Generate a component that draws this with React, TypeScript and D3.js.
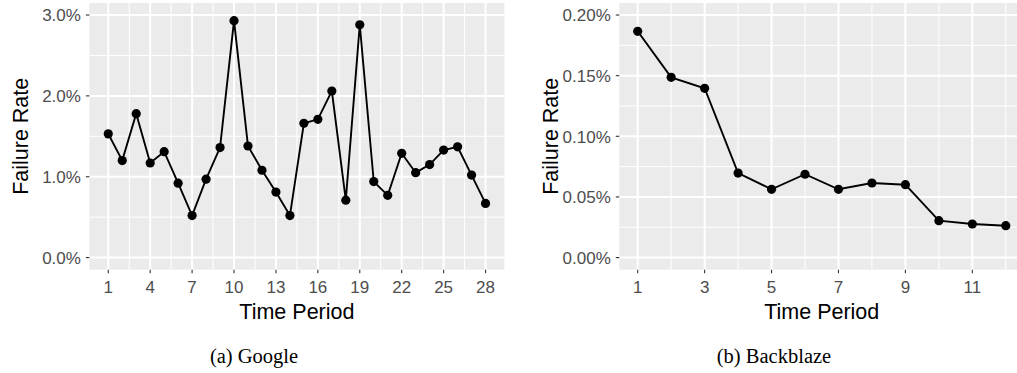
import React from "react";
import * as d3 from "d3";

// ---- data ----
const googlePeriods = d3.range(1, 29);
const googleRates = [
  1.53, 1.2, 1.78, 1.17, 1.31, 0.92, 0.52, 0.97, 1.36, 2.93, 1.38, 1.08, 0.81, 0.52,
  1.66, 1.71, 2.06, 0.71, 2.88, 0.94, 0.77, 1.29, 1.05, 1.15, 1.33, 1.37, 1.02, 0.67,
];
const googleXTicks = [1, 4, 7, 10, 13, 16, 19, 22, 25, 28];
const googleYTicks = [0, 1, 2, 3];
const googleYMinor = [0.5, 1.5, 2.5];

const bbPeriods = d3.range(1, 13);
const bbRates = [0.1866, 0.1486, 0.1396, 0.0697, 0.0563, 0.0687, 0.0563, 0.0615, 0.0601, 0.0304, 0.0277, 0.0263];
const bbXTicks = [1, 3, 5, 7, 9, 11];
const bbYTicks = [0, 0.05, 0.1, 0.15, 0.2];
const bbYMinor = [0.025, 0.075, 0.125, 0.175];

type PanelProps = {
  periods: number[];
  rates: number[];
  xTicks: number[];
  yTicks: number[];
  yMinor: number[];
  xDomain: [number, number];
  yDomain: [number, number];
  left: number;
  right: number;
  yFmt: (v: number) => string;
  caption: string;
  captionX: number;
};

const TOP = 2.9;
const BOTTOM = 269.7;
const SANS = "'Liberation Sans', Arial, Helvetica, sans-serif";

function Panel(p: PanelProps) {
  const x = d3.scaleLinear().domain(p.xDomain).range([p.left, p.right]);
  const y = d3.scaleLinear().domain(p.yDomain).range([BOTTOM, TOP]);
  const step = p.xTicks[1] - p.xTicks[0];
  const xMinor = d3
    .range(p.xTicks[0] - step, p.xTicks[p.xTicks.length - 1] + 2 * step, step)
    .map((t) => t + step / 2)
    .filter((t) => t > p.xDomain[0] && t < p.xDomain[1]);
  const line = d3
    .line<number>()
    .x((_, i) => x(p.periods[i]))
    .y((d) => y(d));
  const cx = (p.left + p.right) / 2;
  const cy = (TOP + BOTTOM) / 2;
  return (
    <g>
      <rect x={p.left} y={TOP} width={p.right - p.left} height={BOTTOM - TOP} fill="#EBEBEB" />
      {p.yMinor.map((t) => (
        <line key={"ym" + t} x1={p.left} x2={p.right} y1={y(t)} y2={y(t)} stroke="#fff" strokeWidth={1} />
      ))}
      {xMinor.map((t) => (
        <line key={"xm" + t} x1={x(t)} x2={x(t)} y1={TOP} y2={BOTTOM} stroke="#fff" strokeWidth={1} />
      ))}
      {p.yTicks.map((t) => (
        <line key={"yM" + t} x1={p.left} x2={p.right} y1={y(t)} y2={y(t)} stroke="#fff" strokeWidth={2} />
      ))}
      {p.xTicks.map((t) => (
        <line key={"xM" + t} x1={x(t)} x2={x(t)} y1={TOP} y2={BOTTOM} stroke="#fff" strokeWidth={2} />
      ))}
      <path d={line(p.rates) || ""} fill="none" stroke="#000" strokeWidth={1.9} />
      {p.rates.map((v, i) => (
        <circle key={"pt" + i} cx={x(p.periods[i])} cy={y(v)} r={4.6} fill="#000" />
      ))}
      {p.yTicks.map((t) => (
        <g key={"yt" + t}>
          <line x1={p.left - 3.5} x2={p.left} y1={y(t)} y2={y(t)} stroke="#333" strokeWidth={1.1} />
          <text x={p.left - 8.5} y={y(t) + 6.3} textAnchor="end" fontFamily={SANS} fontSize={17} fill="#4D4D4D">
            {p.yFmt(t)}
          </text>
        </g>
      ))}
      {p.xTicks.map((t) => (
        <g key={"xt" + t}>
          <line x1={x(t)} x2={x(t)} y1={BOTTOM} y2={BOTTOM + 3.5} stroke="#333" strokeWidth={1.1} />
          <text x={x(t)} y={293} textAnchor="middle" fontFamily={SANS} fontSize={17} fill="#4D4D4D">
            {t}
          </text>
        </g>
      ))}
      <text x={cx} y={319} textAnchor="middle" fontFamily={SANS} fontSize={21.5} fill="#000">
        Time Period
      </text>
      <text
        transform={`translate(${p.left - 61},${cy}) rotate(-90)`}
        textAnchor="middle"
        fontFamily={SANS}
        fontSize={21.5}
        fill="#000"
      >
        Failure Rate
      </text>
      <text
        x={p.captionX}
        y={362.7}
        textAnchor="middle"
        fontFamily="'Liberation Serif', 'Times New Roman', serif"
        fontSize={20.5}
        fill="#000"
      >
        {p.caption}
      </text>
    </g>
  );
}

export default function App() {
  return (
    <div style={{ position: "absolute", left: 0, top: 0 }}>
      <svg width={1017} height={373} style={{ display: "block", background: "#fff" }}>
        <Panel
          periods={googlePeriods}
          rates={googleRates}
          xTicks={googleXTicks}
          yTicks={googleYTicks}
          yMinor={googleYMinor}
          xDomain={[1 - 1.35, 28 + 1.35]}
          yDomain={[-0.15, 3.15]}
          left={89.4}
          right={504.4}
          yFmt={(v) => v.toFixed(1) + "%"}
          caption="(a) Google"
          captionX={254}
        />
        <Panel
          periods={bbPeriods}
          rates={bbRates}
          xTicks={bbXTicks}
          yTicks={bbYTicks}
          yMinor={bbYMinor}
          xDomain={[1 - 0.55, 12 + 0.55]}
          yDomain={[-0.01, 0.21]}
          left={619.3}
          right={1024.2}
          yFmt={(v) => v.toFixed(2) + "%"}
          caption="(b) Backblaze"
          captionX={774}
        />
      </svg>
    </div>
  );
}
